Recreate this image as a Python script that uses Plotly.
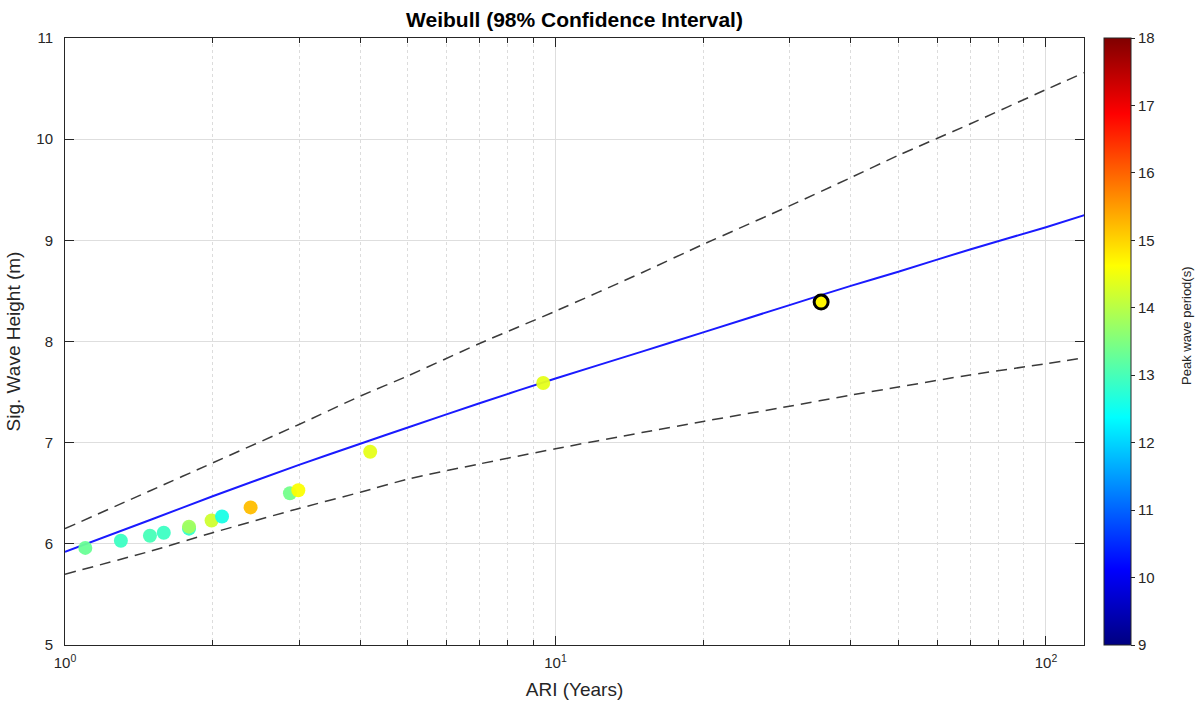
import plotly.graph_objects as go

# ---- data ----
ari_pts = [1.10, 1.30, 1.49, 1.59, 1.79, 1.79, 1.99, 2.09, 2.39, 2.875, 2.99, 4.19, 9.44]
hs_pts = [5.96, 6.03, 6.08, 6.11, 6.15, 6.17, 6.23, 6.27, 6.36, 6.50, 6.53, 6.91, 7.59]
tp_pts = [13.3, 12.9, 13.0, 12.9, 12.8, 13.8, 14.2, 12.6, 15.2, 13.4, 14.6, 14.4, 14.4]

hl_ari = [34.8]
hl_hs = [8.39]
hl_tp = [14.7]

curve_x = [1, 1.5, 2, 3, 4, 5, 7, 10, 15, 20, 30, 40, 50, 70, 100, 120]
fit_y = [5.92, 6.24, 6.47, 6.78, 6.99, 7.15, 7.39, 7.635, 7.90, 8.09, 8.36, 8.55, 8.69, 8.91, 9.13, 9.25]
upper_y = [6.15, 6.53, 6.80, 7.18, 7.46, 7.66, 7.98, 8.30, 8.68, 8.96, 9.34, 9.62, 9.84, 10.15, 10.49, 10.66]
lower_y = [5.70, 5.93, 6.11, 6.35, 6.51, 6.64, 6.79, 6.94, 7.10, 7.21, 7.36, 7.47, 7.55, 7.67, 7.78, 7.84]

x_major = [1, 10, 100]
x_major_text = ["10<sup>0</sup>", "10<sup>1</sup>", "10<sup>2</sup>"]
x_minor = [2, 3, 4, 5, 6, 7, 8, 9, 20, 30, 40, 50, 60, 70, 80, 90]
y_ticks = [5, 6, 7, 8, 9, 10, 11]
cb_ticks = [9, 10, 11, 12, 13, 14, 15, 16, 17, 18]

jet = [
    [0.0, "rgb(0,0,128)"],
    [0.125, "rgb(0,0,255)"],
    [0.375, "rgb(0,255,255)"],
    [0.625, "rgb(255,255,0)"],
    [0.875, "rgb(255,0,0)"],
    [1.0, "rgb(128,0,0)"],
]

FONT = "Liberation Sans, Arial, sans-serif"
TXT = "#262626"
AX = "#262626"

fig = go.Figure()

dash_line = dict(color="#3a3a3a", width=1.5, dash="11px,7px", shape="spline", smoothing=0.6)
fig.add_trace(go.Scatter(x=curve_x, y=upper_y, mode="lines", line=dash_line,
                         showlegend=False, hoverinfo="skip"))
fig.add_trace(go.Scatter(x=curve_x, y=lower_y, mode="lines", line=dash_line,
                         showlegend=False, hoverinfo="skip"))
fig.add_trace(go.Scatter(x=curve_x, y=fit_y, mode="lines",
                         line=dict(color="#1a1aff", width=2, shape="spline", smoothing=0.6),
                         showlegend=False))
fig.add_trace(go.Scatter(x=ari_pts, y=hs_pts, mode="markers",
                         marker=dict(size=14, color=tp_pts, coloraxis="coloraxis",
                                     line=dict(width=0), opacity=0.95),
                         showlegend=False))
fig.add_trace(go.Scatter(x=hl_ari, y=hl_hs, mode="markers",
                         marker=dict(size=14, color=hl_tp, coloraxis="coloraxis",
                                     line=dict(width=3, color="black")),
                         showlegend=False))

fig.add_annotation(text="Peak wave period(s)", textangle=-90,
                   x=(1186 - 65) / 1019, xref="paper", xanchor="center",
                   y=(645 - 326) / 607, yref="paper", yanchor="middle", showarrow=False,
                   font=dict(size=13, color=TXT, family=FONT))

fig.update_layout(
    width=1196, height=709,
    margin=dict(l=65, r=112, t=38, b=64, autoexpand=False),
    paper_bgcolor="white", plot_bgcolor="white",
    font=dict(family=FONT, size=15, color=TXT),
    title=dict(text="<b>Weibull (98% Confidence Interval)</b>",
               x=0.5, xref="paper", xanchor="center",
               y=1 - 20 / 709, yref="container", yanchor="middle",
               font=dict(size=21, color="black", family=FONT)),
    coloraxis=dict(
        colorscale=jet, cmin=9, cmax=18,
        colorbar=dict(
            x=(1104 - 65) / 1019, xanchor="left", xref="paper",
            y=0.5, yanchor="middle", xpad=0, ypad=0,
            thickness=27, len=607, lenmode="pixels",
            outlinecolor=AX, outlinewidth=1,
            tickvals=cb_ticks, ticks="outside", ticklen=4, tickcolor=AX,
            tickfont=dict(size=15, color=TXT, family=FONT),
        ),
    ),
    xaxis=dict(
        type="log", range=[0, 2.0775],
        tickvals=x_major, ticktext=x_major_text,
        ticks="inside", ticklen=9, tickcolor=AX,
        showline=True, linecolor=AX, linewidth=1, mirror="ticks",
        showgrid=True, gridcolor="#dedede", gridwidth=1,
        zeroline=False, ticklabelstandoff=4,
        minor=dict(tickvals=x_minor, ticks="inside", ticklen=5, tickcolor=AX,
                   showgrid=True, gridcolor="#dcdcdc", griddash="dot", gridwidth=1),
        tickfont=dict(size=15, color=TXT, family=FONT),
        title=dict(text="ARI (Years)", font=dict(size=19, color=TXT, family=FONT), standoff=12),
    ),
    yaxis=dict(
        range=[5, 11], tickvals=y_ticks,
        ticks="inside", ticklen=9, tickcolor=AX,
        showline=True, linecolor=AX, linewidth=1, mirror="ticks",
        showgrid=True, gridcolor="#dedede", gridwidth=1,
        zeroline=False, ticklabelstandoff=8,
        tickfont=dict(size=15, color=TXT, family=FONT),
        title=dict(text="Sig. Wave Height (m)", font=dict(size=19, color=TXT, family=FONT), standoff=10),
    ),
)

fig.write_html("out.html")
